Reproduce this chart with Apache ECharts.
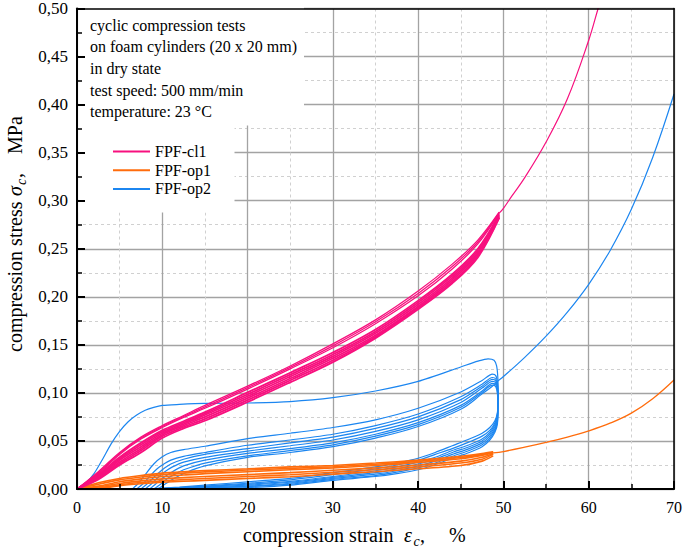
<!DOCTYPE html>
<html><head><meta charset="utf-8">
<script src="https://cdn.jsdelivr.net/npm/echarts@6/dist/echarts.min.js"></script>
<style>html,body{margin:0;padding:0;background:#fff}#c{width:685px;height:551px}</style>
</head><body><div id="c"></div>
<script>
// ---------- text / ticks ----------
const xTickLabels = ['0','10','20','30','40','50','60','70'];
const yTickLabels = ['0,00','0,05','0,10','0,15','0,20','0,25','0,30','0,35','0,40','0,45','0,50'];
const seriesNames = ['FPF-cl1','FPF-op1','FPF-op2'];
const seriesColors = ['#f7107e','#ff6c0c','#1c86f0'];
const noteLines = ['cyclic compression tests','on foam cylinders (20 x 20 mm)','in dry state','test speed: 500 mm/min','temperature: 23 \u00B0C'];

// ---------- FPF-cl1 (pink) ----------
const cl1Strain = [0,2.5,5,7.5,10,12.5,15,20,25,30,35,40,44,47,49.5];
const cl1Load1 = [0,0.018,0.038,0.054,0.066,0.0765,0.087,0.107,0.128,0.151,0.176,0.206,0.234,0.259,0.288];
const cl1Load2 = [0,0.017,0.037,0.053,0.065,0.0755,0.0855,0.1055,0.1265,0.149,0.174,0.2035,0.2315,0.257,0.2875];
const cl1Load3 = [0,0.016,0.036,0.052,0.064,0.0745,0.084,0.104,0.125,0.147,0.172,0.201,0.229,0.255,0.287];
const cl1Unload1 = [0,0.015,0.033,0.048,0.061,0.0705,0.080,0.1005,0.121,0.142,0.166,0.196,0.2235,0.250,0.286];
const cl1Unload2 = [0,0.014,0.0315,0.046,0.0595,0.069,0.0785,0.0985,0.119,0.140,0.164,0.194,0.2215,0.248,0.285];
const cl1Unload3 = [0,0.013,0.030,0.044,0.058,0.0675,0.077,0.0965,0.117,0.138,0.162,0.192,0.2195,0.246,0.284];
const cl1Unload4 = [0,0.012,0.028,0.042,0.0565,0.066,0.075,0.0945,0.115,0.136,0.160,0.190,0.2175,0.2445,0.283];
const cl1Unload5 = [0,0.011,0.0265,0.040,0.055,0.0645,0.073,0.0925,0.113,0.134,0.1585,0.1885,0.2155,0.243,0.2825];
const cl1Unload6 = [0,0.010,0.025,0.038,0.053,0.063,0.071,0.0905,0.111,0.132,0.157,0.187,0.214,0.241,0.282];
const cl1Final = [[49.5,0.287],[50,0.292],[51,0.305],[52.5,0.324],[55,0.361],[57.5,0.406],[60,0.467],[61.1,0.5],[61.6,0.515]];

// ---------- FPF-op1 (orange) ----------
const op1Strain = [0,2.5,5,7.5,10,12.5,15,20,25,30,35,40,45,47.5,48.8];
const op1Line1 = [0,0.0065,0.011,0.014,0.0165,0.018,0.0192,0.021,0.023,0.0245,0.027,0.030,0.034,0.0368,0.0386];
const op1Line2 = [0,0.005,0.0095,0.0125,0.015,0.0165,0.0178,0.0197,0.0215,0.0232,0.0258,0.0288,0.0328,0.0358,0.0382];
const op1Line3 = [0,0.003,0.0075,0.0105,0.013,0.0145,0.016,0.018,0.020,0.022,0.0245,0.0275,0.0315,0.035,0.0378];
const op1Line4 = [0,0.002,0.0058,0.0085,0.0105,0.0118,0.013,0.015,0.017,0.0195,0.022,0.0250,0.0290,0.033,0.0370];
const op1Line5 = [0,0.001,0.0045,0.0068,0.0085,0.0098,0.011,0.013,0.0148,0.0175,0.0200,0.0230,0.0270,0.031,0.0360];
const op1Line6 = [0,0.0003,0.0035,0.0055,0.007,0.008,0.009,0.011,0.0127,0.0155,0.0180,0.0210,0.0245,0.029,0.0345];
const op1Final = [[48.8,0.0375],[50,0.039],[52.5,0.0435],[55,0.0485],[57.5,0.054],[60,0.0605],[62.5,0.0685],[65,0.079],[67.5,0.094],[70,0.1135]];

// ---------- FPF-op2 (blue) ----------
const op2Cycle1 = [[0,0],[1,0.006],[2,0.016],[3,0.031],[4,0.047],[5,0.060],[6,0.070],[7,0.077],[8,0.082],[9,0.085],[10,0.087],[12,0.088],[15,0.089],[20,0.0895],[25,0.091],[30,0.095],[35,0.102],[40,0.112],[45,0.127],[47,0.133],[48.2,0.1355],[48.9,0.134],[49.2,0.128],[49.35,0.115],[49.4,0.095],[49.3,0.080],[49.0,0.071],[48.4,0.064],[47.5,0.058],[46,0.052],[44,0.045],[42,0.038],[40,0.032],[37.5,0.027],[35,0.023],[30,0.017],[25,0.011],[20,0.0075],[15,0.004],[12,0.002],[9,0.0004],[6.5,0]];
const op2Cycle2 = [[6.5,0],[7.2,0.006],[8,0.015],[9,0.026],[10,0.0335],[11,0.038],[12.5,0.041],[15,0.0445],[20,0.0525],[25,0.058],[30,0.064],[35,0.072],[40,0.084],[45,0.101],[47.5,0.113],[48.7,0.1195],[49.1,0.118],[49.3,0.110],[49.35,0.093],[49.3,0.078],[49.0,0.069],[48.4,0.061],[47.5,0.055],[46,0.049],[44,0.042],[42,0.036],[40,0.030],[37.5,0.025],[35,0.021],[30,0.015],[25,0.0095],[20,0.006],[15,0.003],[12,0.0015],[9,0.0003],[7.0,0]];
const op2Cycle3 = [[7.0,0],[7.8,0.006],[8.6,0.014],[9.4,0.021],[10,0.025],[11,0.030],[12.5,0.034],[15,0.038],[20,0.0455],[25,0.051],[30,0.057],[35,0.066],[40,0.078],[45,0.096],[47.5,0.109],[48.7,0.116],[49.1,0.1145],[49.3,0.107],[49.35,0.091],[49.3,0.076],[49.0,0.067],[48.4,0.059],[47.5,0.052],[46,0.046],[44,0.040],[42,0.033],[40,0.028],[37.5,0.023],[35,0.019],[30,0.013],[25,0.008],[20,0.005],[15,0.0025],[12,0.001],[9.5,0.0002],[7.5,0]];
const op2Cycle4 = [[7.5,0],[8.3,0.006],[9.1,0.013],[10,0.020],[11,0.026],[12.5,0.031],[15,0.036],[20,0.042],[25,0.048],[30,0.054],[35,0.063],[40,0.075],[45,0.093],[47.5,0.107],[48.7,0.114],[49.1,0.1125],[49.3,0.105],[49.35,0.089],[49.3,0.074],[49.0,0.065],[48.4,0.057],[47.5,0.050],[46,0.044],[44,0.038],[42,0.031],[40,0.026],[37.5,0.021],[35,0.017],[30,0.012],[25,0.007],[20,0.004],[15,0.002],[12,0.0008],[10,0.0002],[8.0,0]];
const op2Cycle5 = [[8.0,0],[8.8,0.006],[9.5,0.012],[10.3,0.018],[11.2,0.023],[12.5,0.028],[15,0.033],[20,0.0395],[25,0.045],[30,0.051],[35,0.060],[40,0.072],[45,0.090],[47.5,0.105],[48.7,0.112],[49.1,0.1105],[49.3,0.103],[49.35,0.087],[49.3,0.072],[49.0,0.063],[48.4,0.055],[47.5,0.048],[46,0.042],[44,0.036],[42,0.029],[40,0.024],[37.5,0.019],[35,0.0155],[30,0.011],[25,0.006],[20,0.003],[15,0.0015],[12,0.0005],[10,0.0001],[8.5,0]];
const op2Cycle6 = [[8.5,0],[9.2,0.005],[10,0.011],[11,0.017],[12.5,0.024],[15,0.030],[20,0.037],[25,0.042],[30,0.048],[35,0.057],[40,0.069],[45,0.087],[47.5,0.102],[48.7,0.110],[49.1,0.1085],[49.3,0.101],[49.35,0.085],[49.3,0.070],[49.0,0.061],[48.4,0.053],[47.5,0.046],[46,0.040],[44,0.034],[42,0.027],[40,0.022],[37.5,0.0175],[35,0.014],[30,0.010],[25,0.005],[20,0.0025],[15,0.001],[12,0.0003],[9.0,0]];
const op2Cycle7 = [[9.0,0],[9.8,0.005],[10.6,0.011],[11.6,0.016],[12.5,0.020],[15,0.027],[20,0.0345],[25,0.040],[30,0.046],[35,0.055],[40,0.067],[45,0.085],[47.5,0.1005],[48.7,0.108],[49.1,0.1065],[49.3,0.099],[49.35,0.083],[49.3,0.068],[49.0,0.059],[48.4,0.051],[47.5,0.044],[46,0.038],[44,0.032],[42,0.0255],[40,0.020],[37.5,0.016],[35,0.013],[30,0.009],[25,0.004],[20,0.0015],[15,0.0005],[12,0.0001],[9.5,0]];
const op2Final = [[9.5,0],[10.3,0.005],[11.2,0.010],[12.5,0.016],[15,0.024],[20,0.033],[25,0.038],[30,0.044],[35,0.053],[40,0.065],[45,0.083],[47.5,0.099],[48.7,0.107],[49.3,0.112],[50,0.117],[52.5,0.137],[55,0.159],[57.5,0.184],[60,0.213],[62.5,0.248],[65,0.291],[67.5,0.345],[70,0.411]];

// ---------- build ----------
const FONT = 'Liberation Serif';
function zip(xs, ys) { return xs.map((x, i) => [x, ys[i]]); }
function line(name, color, data, width, z, sm) {
  return { name, type: 'line', data, xAxisIndex: 1, yAxisIndex: 1, showSymbol: false, symbol: 'none',
    smooth: sm || 0.25, lineStyle: { color, width }, itemStyle: { color }, z: z, animation: false, silent: true };
}
const series = [];
[op2Cycle1, op2Cycle2, op2Cycle3, op2Cycle4, op2Cycle5, op2Cycle6, op2Cycle7].forEach(d =>
  series.push(line(seriesNames[2], seriesColors[2], d, 1.2, 4)));
series.push(line(seriesNames[2], seriesColors[2], op2Final, 1.2, 4, 0.4));
[op1Line1, op1Line2, op1Line3, op1Line4, op1Line5, op1Line6].forEach(d =>
  series.push(line(seriesNames[1], seriesColors[1], zip(op1Strain, d), 1.6, 5)));
series.push(line(seriesNames[1], seriesColors[1], op1Final, 1.3, 5, 0.4));
[cl1Load1, cl1Load2, cl1Load3].forEach(d =>
  series.push(line(seriesNames[0], seriesColors[0], zip(cl1Strain, d), 1.3, 6, 0.35)));
[cl1Unload1, cl1Unload2, cl1Unload3, cl1Unload4, cl1Unload5, cl1Unload6].forEach(d =>
  series.push(line(seriesNames[0], seriesColors[0], zip(cl1Strain, d), 1.8, 6, 0.35)));
series.push(line(seriesNames[0], seriesColors[0], cl1Final, 1.2, 6, 0.4));

const L = 77, R = 678, T = 6, B = 489;
const gridColor = '#a3a3a3';
const minorColor = '#d0d0d0';
const xBase = { type: 'value', min: 0, max: 70, interval: 10, gridIndex: 0 };
const yBase = { type: 'value', min: 0, max: 0.5, interval: 0.05, gridIndex: 0 };

function txt(x, y, text, size, extra) {
  return Object.assign({ type: 'text', z: 9, zlevel: 0, x, y, silent: true,
    style: { text, fill: '#000', fontFamily: FONT, fontSize: size, fontStyle: (extra && extra.italic) ? 'italic' : 'normal',
      align: 'left', verticalAlign: 'middle', textAlign: 'left', textVerticalAlign: 'middle' } },
    (extra && extra.rot) ? { rotation: Math.PI / 2 } : {});
}

const chart = echarts.init(document.getElementById('c'), null, { renderer: 'svg', width: 685, height: 551 });
chart.setOption({
  animation: false,
  backgroundColor: '#fff',
  grid: { left: L, right: 685 - R, top: T, bottom: 551 - B, show: false },
  xAxis: [
    Object.assign({}, xBase, { z: 0, axisLine: { show: false }, axisTick: { show: false }, axisLabel: { show: false },
      splitLine: { show: true, lineStyle: { color: gridColor, width: 1.3 } },
      minorTick: { show: false, splitNumber: 2 },
      minorSplitLine: { show: true, lineStyle: { color: minorColor, width: 1, type: [3, 3] } } }),
    Object.assign({}, xBase, { z: 7, position: 'bottom',
      axisLine: { show: true, onZero: false, lineStyle: { color: '#000', width: 2 } },
      axisTick: { show: true, inside: true, length: 8, lineStyle: { color: '#000', width: 2 } },
      minorTick: { show: true, splitNumber: 2, length: 5, lineStyle: { color: '#000', width: 1.5 } },
      splitLine: { show: false },
      axisLabel: { show: true, margin: 10, color: '#000', fontFamily: FONT, fontSize: 16,
        formatter: v => xTickLabels[Math.round(v / 10)] } }),
    Object.assign({}, xBase, { z: 7, position: 'top',
      axisLine: { show: true, onZero: false, lineStyle: { color: '#000', width: 1.5 } },
      axisTick: { show: false }, axisLabel: { show: false }, splitLine: { show: false } })
  ],
  yAxis: [
    Object.assign({}, yBase, { z: 0, axisLine: { show: false }, axisTick: { show: false }, axisLabel: { show: false },
      splitLine: { show: true, lineStyle: { color: gridColor, width: 1.3 } },
      minorTick: { show: false, splitNumber: 2 },
      minorSplitLine: { show: true, lineStyle: { color: minorColor, width: 1, type: [3, 3] } } }),
    Object.assign({}, yBase, { z: 7, position: 'left',
      axisLine: { show: true, onZero: false, lineStyle: { color: '#000', width: 2 } },
      axisTick: { show: true, inside: true, length: 8, lineStyle: { color: '#000', width: 2 } },
      minorTick: { show: true, splitNumber: 2, length: 5, lineStyle: { color: '#000', width: 1.5 } },
      splitLine: { show: false },
      axisLabel: { show: true, margin: 9, color: '#000', fontFamily: FONT, fontSize: 17,
        formatter: v => yTickLabels[Math.round(v / 0.05)] } }),
    Object.assign({}, yBase, { z: 7, position: 'right',
      axisLine: { show: true, onZero: false, lineStyle: { color: '#000', width: 1.5 } },
      axisTick: { show: false }, axisLabel: { show: false }, splitLine: { show: false } })
  ],
  legend: {
    data: seriesNames, orient: 'vertical', left: 108, top: 138.5, icon: 'rect',
    itemWidth: 37, itemHeight: 2, itemGap: 2.7, z: 8, selectedMode: false,
    textStyle: { fontFamily: FONT, fontSize: 16, lineHeight: 16, color: '#000' }
  },
  graphic: [
    { type: 'polygon', id: 'notebox', z: 3, zlevel: 0, silent: true,
      shape: { points: [[78.5, 7], [304, 7], [304, 125.5], [234.5, 125.5], [234.5, 212.5], [78.5, 212.5]] },
      style: { fill: '#ffffff', stroke: null } },
    { type: 'text', id: 'note', z: 9, zlevel: 0, x: 90, y: 14.2, silent: true,
      style: { text: noteLines.join('\n'), fill: '#000', fontFamily: FONT, fontSize: 16,
        lineHeight: 21.7, align: 'left', verticalAlign: 'top', textAlign: 'left', textVerticalAlign: 'top' } },
    Object.assign(txt(243, 535, 'compression strain', 20), { id: 'xt1' }),
    Object.assign(txt(404, 535, '\u03B5', 20, { italic: true }), { id: 'xt2' }),
    Object.assign(txt(413.5, 541, 'c', 14, { italic: true }), { id: 'xt3' }),
    Object.assign(txt(420, 535, ',', 20), { id: 'xt4' }),
    Object.assign(txt(449, 535, '%', 20), { id: 'xt5' }),
    Object.assign(txt(15, 352, 'compression stress', 20, { rot: true }), { id: 'yt1' }),
    Object.assign(txt(15, 196, '\u03C3', 20, { italic: true, rot: true }), { id: 'yt2' }),
    Object.assign(txt(21, 185, 'c', 14, { italic: true, rot: true }), { id: 'yt3' }),
    Object.assign(txt(15, 178, ',', 20, { rot: true }), { id: 'yt4' }),
    Object.assign(txt(15, 154, 'MPa', 20, { rot: true }), { id: 'yt5' })
  ],
  series: series
});
</script></body></html>
